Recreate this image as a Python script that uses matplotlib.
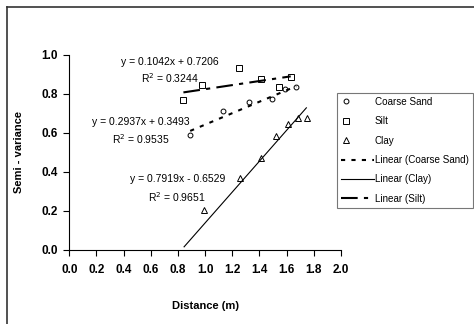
import numpy as np
import matplotlib
matplotlib.use('Agg')
import matplotlib.pyplot as plt
from matplotlib.lines import Line2D
from matplotlib.legend_handler import HandlerLine2D

plt.rcParams['font.family'] = ['Liberation Sans', 'DejaVu Sans']

# data
sand_x = [0.89, 1.13, 1.32, 1.49, 1.59, 1.67]
sand_y = [0.59, 0.715, 0.76, 0.775, 0.825, 0.835]
silt_x = [0.84, 0.98, 1.25, 1.41, 1.54, 1.63]
silt_y = [0.77, 0.845, 0.935, 0.875, 0.835, 0.885]
clay_x = [0.99, 1.26, 1.41, 1.52, 1.61, 1.68, 1.75]
clay_y = [0.205, 0.37, 0.47, 0.585, 0.645, 0.675, 0.675]

# trendline coefficients (slope, intercept) and their x extents
sand_fit = [0.2937, 0.3493]
silt_fit = [0.1042, 0.7206]
clay_fit = [0.7919, -0.6529]
sand_span = [0.89, 1.67]
silt_span = [0.84, 1.63]
clay_span = [0.845, 1.745]


class LeftMarker(HandlerLine2D):
    # excel style: marker sits near the left of the legend key
    def create_artists(self, legend, orig_handle, xdescent, ydescent,
                       width, height, fontsize, trans):
        arts = super().create_artists(legend, orig_handle, xdescent, ydescent,
                                      width, height, fontsize, trans)
        for a in arts:
            y = (height - ydescent) / 2
            a.set_xdata([-xdescent + 0.16 * width])
            a.set_ydata([y])
            a.set_markevery(None)
        return arts


fig = plt.figure(figsize=(4.74, 3.24), dpi=100)
ax = fig.add_axes([0.1462, 0.2284, 0.5732, 0.6019])

mk = dict(linestyle='none', mfc='white', mec='black', mew=0.7)
h1, = ax.plot(sand_x, sand_y, marker='o', ms=3.5, label='Coarse Sand', **mk)
h2, = ax.plot(silt_x, silt_y, marker='s', ms=4, label='Silt', **mk)
h3, = ax.plot(clay_x, clay_y, marker='^', ms=5, label='Clay', **mk)

xs = np.array(sand_span)
ax.plot(xs, sand_fit[0] * xs + sand_fit[1], color='black', lw=1.5,
        dashes=(2, 3), label='Linear (Coarse Sand)')
xc = np.array(clay_span)
ax.plot(xc, clay_fit[0] * xc + clay_fit[1], color='black', lw=0.8,
        label='Linear (Clay)')
xl = np.array(silt_span)
ax.plot(xl, silt_fit[0] * xl + silt_fit[1], color='black', lw=1.5,
        dashes=(8, 3, 2, 3), label='Linear (Silt)')

fs = 7.5
ax.text(0.74, 0.964, 'y = 0.1042x + 0.7206', ha='center', va='center', fontsize=fs)
ax.text(0.74, 0.882, 'R$^2$ = 0.3244', ha='center', va='center', fontsize=fs)
ax.text(0.53, 0.656, 'y = 0.2937x + 0.3493', ha='center', va='center', fontsize=fs)
ax.text(0.53, 0.569, 'R$^2$ = 0.9535', ha='center', va='center', fontsize=fs)
ax.text(0.80, 0.364, 'y = 0.7919x - 0.6529', ha='center', va='center', fontsize=fs)
ax.text(0.795, 0.272, 'R$^2$ = 0.9651', ha='center', va='center', fontsize=fs)

ax.set_xlim(0, 2.0)
ax.set_ylim(0, 1.0)
ax.set_xticks(np.arange(0, 2.01, 0.2))
ax.set_yticks(np.arange(0, 1.01, 0.2))
ax.xaxis.set_major_formatter(matplotlib.ticker.FormatStrFormatter('%.1f'))
ax.yaxis.set_major_formatter(matplotlib.ticker.FormatStrFormatter('%.1f'))
for s in ['top', 'right']:
    ax.spines[s].set_visible(False)
for s in ['left', 'bottom']:
    ax.spines[s].set_linewidth(0.8)
ax.tick_params(direction='out', length=4, width=0.8, labelsize=8.5)
ax.tick_params(axis='x', pad=6)
ax.tick_params(axis='y', pad=4)
for t in ax.get_xticklabels() + ax.get_yticklabels():
    t.set_fontweight('bold')
ax.set_xlabel('Distance (m)', fontsize=8, fontweight='bold', labelpad=18)
ax.set_ylabel('Semi - variance', fontsize=8, fontweight='bold', labelpad=13)

leg = ax.legend(loc='upper left', bbox_to_anchor=(337 / 474, 1 - 93 / 324),
                bbox_transform=fig.transFigure, fontsize=7.1, frameon=True,
                fancybox=False, borderpad=0.4, labelspacing=0.95,
                handlelength=3.4, handletextpad=0.05, borderaxespad=0,
                handler_map={h1: LeftMarker(), h2: LeftMarker(), h3: LeftMarker()})
leg.get_frame().set_edgecolor('#555555')
leg.get_frame().set_linewidth(0.8)

# chart area border (left and top visible)
fig.add_artist(Line2D([7 / 474, 7 / 474], [0, 1 - 7 / 324], color='#333333', lw=1.2))
fig.add_artist(Line2D([7 / 474, 1], [1 - 7 / 324, 1 - 7 / 324], color='#333333', lw=1.2))

fig.savefig('out.png', dpi=100)
